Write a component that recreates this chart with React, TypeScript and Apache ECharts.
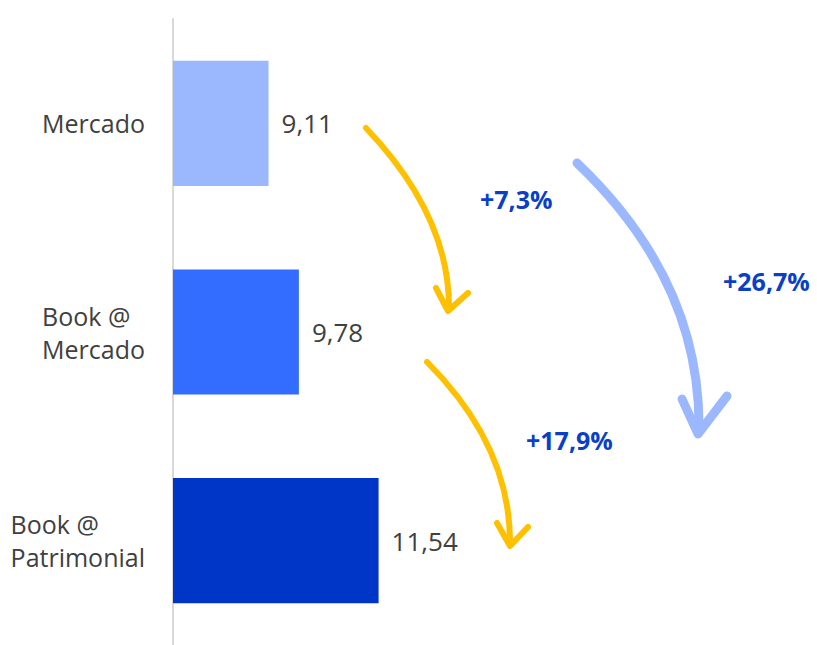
import React, { useEffect, useRef } from "react";
import * as echarts from "echarts";

const categories = ["Mercado", "Book @\nMercado", "Book @\nPatrimonial"];
const values = [9.11, 9.78, 11.54];
const changes = ["+7,3%", "+17,9%", "+26,7%"];

const barColors = ["#9bb8ff", "#336dff", "#0036c8"];
const FONT = "'Open Sans', sans-serif";

export default function App() {
  const ref = useRef<HTMLDivElement>(null);
  useEffect(() => {
    if (!ref.current) return;
    const chart = echarts.init(ref.current, null, { renderer: "svg" });
    const yellow = "#ffc000";
    const lightBlue = "#9bb8ff";
    const arrow = (
      sx: number, sy: number, cx: number, cy: number, ex: number, ey: number,
      l: [number, number], t: [number, number], r: [number, number],
      color: string, w: number
    ) => [
      {
        type: "bezierCurve",
        shape: { x1: sx, y1: sy, cpx1: cx, cpy1: cy, x2: ex, y2: ey },
        style: { stroke: color, lineWidth: w, fill: "none", lineCap: "round" },
        silent: true,
      },
      {
        type: "polyline",
        shape: { points: [l, t, r] },
        style: { stroke: color, lineWidth: w, fill: "none", lineCap: "round", lineJoin: "round" },
        silent: true,
      },
    ];
    const pctStyle = (text: string) => ({
      text,
      fill: "#0a3fc8",
      font: `bold 25px ${FONT}`,
      textAlign: "left",
      textVerticalAlign: "middle",
    });
    chart.setOption({
      animation: false,
      grid: { left: 173, top: 19, width: 634, height: 633, containLabel: false },
      xAxis: {
        type: "value",
        min: 7,
        max: 21,
        show: false,
        splitLine: { show: false },
      },
      yAxis: {
        type: "category",
        data: categories,
        inverse: true,
        axisLine: { show: true, lineStyle: { color: "#d9d9d9", width: 2 } },
        axisTick: { show: false },
        axisLabel: {
          margin: 28,
          formatter: (v: string) => v.split("\n").map((l) => `{a|${l}}`).join("\n"),
          rich: {
            a: { align: "left", fontSize: 25, fontFamily: FONT, color: "#404040", lineHeight: 33 },
          },
        },
      },
      series: [
        {
          type: "bar",
          barCategoryGap: "40%",
          data: values.map((v, i) => ({ value: v, itemStyle: { color: barColors[i] } })),
          label: {
            show: true,
            position: "right",
            distance: 13,
            fontSize: 26,
            fontFamily: FONT,
            color: "#404040",
            formatter: (p: any) => p.value.toFixed(2).replace(".", ","),
          },
        },
      ],
      graphic: [
        ...arrow(366, 128, 449, 215, 449, 307, [436, 288], [448, 311], [468, 293], yellow, 6),
        ...arrow(427, 362, 510, 445, 510, 542, [497, 523], [510, 546], [528, 527], yellow, 6),
        ...arrow(577, 163, 700, 280, 699, 428, [682, 399], [698, 434], [727, 396], lightBlue, 9),
        { type: "text", x: 480, y: 199, style: pctStyle(changes[0]), silent: true },
        { type: "text", x: 526, y: 440, style: pctStyle(changes[1]), silent: true },
        { type: "text", x: 723, y: 281, style: pctStyle(changes[2]), silent: true },
      ],
    });
    return () => chart.dispose();
  }, []);
  return (
    <div
      ref={ref}
      style={{ position: "fixed", left: 0, top: 0, width: 817, height: 645, background: "#fff" }}
    />
  );
}
